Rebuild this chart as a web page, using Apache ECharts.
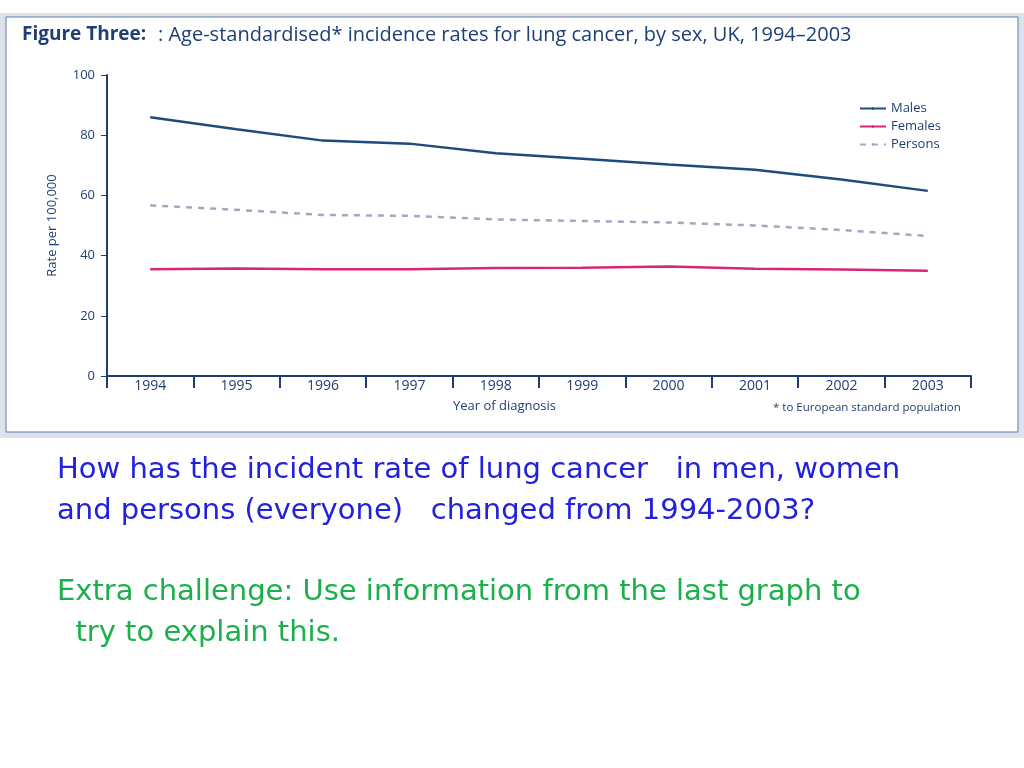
<!DOCTYPE html>
<html><head><meta charset="utf-8">
<script src="https://cdn.jsdelivr.net/npm/echarts@6/dist/echarts.min.js"></script>
<style>html,body{margin:0;padding:0;background:#fff}#c{width:1024px;height:768px}</style>
</head><body><div id="c"></div>
<script>
const years=['1994','1995','1996','1997','1998','1999','2000','2001','2002','2003'];
const males=[86,82,78.2,77.2,74,72.2,70.3,68.5,65.3,61.5];
const females=[35.5,35.7,35.5,35.5,35.9,36,36.4,35.6,35.4,35];
const persons=[56.7,55.2,53.5,53.2,52,51.5,51,50,48.5,46.5];
const yTicks=[0,20,40,60,80,100];
const navy='#1d3f73';
const chart=echarts.init(document.getElementById('c'));
chart.setOption({
  animation:false,
  graphic:[
    {type:'rect',shape:{x:0,y:13,width:1024,height:425},style:{fill:'#dde2ea'},z:-10},
    {type:'rect',shape:{x:6,y:17,width:1012,height:415},style:{fill:'#fff',stroke:'#5b7bb0',lineWidth:1},z:-9},
    {type:'text',left:22,top:25,style:{text:'Figure Three:',font:'bold 19px "Open Sans"',fill:navy}},
    {type:'text',left:158,top:25,style:{text:': Age-standardised* incidence rates for lung cancer, by sex, UK, 1994–2003',font:'20px "Open Sans"',fill:navy}},
    {type:'text',left:453,top:400,style:{text:'Year of diagnosis',font:'13px "Open Sans"',fill:navy}},
    {type:'text',left:773,top:402,style:{text:'* to European standard population',font:'11.5px "Open Sans"',fill:navy}},
    {type:'text',left:57,top:450,style:{text:'How has the incident rate of lung cancer   in men, women\nand persons (everyone)   changed from 1994-2003?',font:'29px "DejaVu Sans"',fill:'#2222dd',lineHeight:41}},
    {type:'text',left:57,top:572,style:{text:'Extra challenge: Use information from the last graph to\n  try to explain this.',font:'29px "DejaVu Sans"',fill:'#1cb04a',lineHeight:41}}
  ],
  legend:{right:78,top:97,orient:'vertical',itemWidth:26,itemHeight:3,itemGap:5,
    textStyle:{color:navy,fontSize:13,fontFamily:'Open Sans'},
    data:['Males','Females','Persons']},
  grid:{left:107,right:53,top:75,bottom:392},
  xAxis:{type:'category',data:years,boundaryGap:true,
    axisLine:{lineStyle:{color:navy,width:2}},
    axisTick:{show:true,length:12,inside:false,lineStyle:{color:navy,width:2},alignWithLabel:false},
    axisLabel:{color:navy,fontSize:14,fontFamily:'Open Sans',margin:3}},
  yAxis:{type:'value',min:0,max:100,interval:20,name:'Rate per 100,000',nameLocation:'middle',nameGap:48,
    nameTextStyle:{color:navy,fontSize:13,fontFamily:'Open Sans'},
    axisLine:{show:true,lineStyle:{color:navy,width:2}},
    axisTick:{show:true,length:6,lineStyle:{color:navy}},
    splitLine:{show:false},
    axisLabel:{color:navy,fontSize:13,fontFamily:'Open Sans',margin:12,formatter:v=>yTicks.includes(v)?String(v):''}},
  series:[
    {name:'Males',type:'line',data:males,symbol:'none',lineStyle:{color:'#1f4a7e',width:2.5},itemStyle:{color:'#1f4a7e'}},
    {name:'Females',type:'line',data:females,symbol:'none',lineStyle:{color:'#d6267a',width:2.5},itemStyle:{color:'#d6267a'}},
    {name:'Persons',type:'line',data:persons,symbol:'none',lineStyle:{color:'#a5a6c2',width:2.5,type:[6,6]},itemStyle:{color:'#a5a6c2'}}
  ]
});
</script></body></html>
